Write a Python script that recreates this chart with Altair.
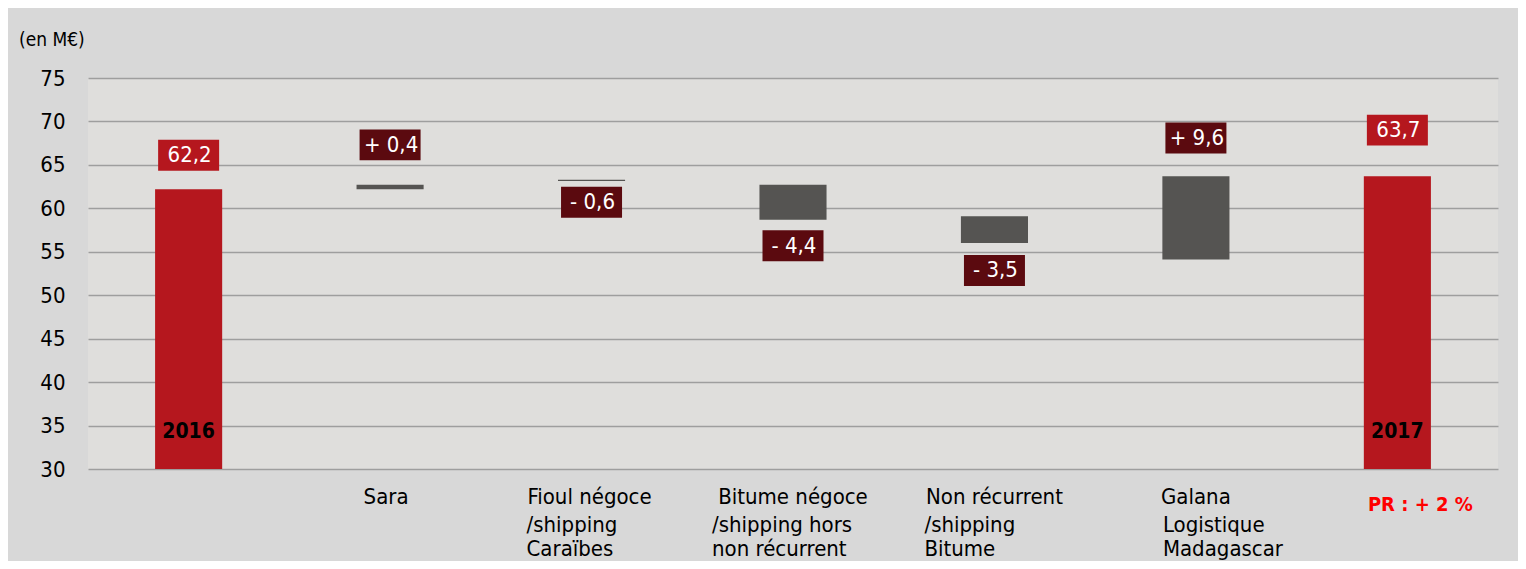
import altair as alt
import pandas as pd

# ---- data ----
categories = ["2016", "Sara", "Fioul", "Bitume", "NonRec", "Galana", "2017"]
bar_start = [0, 62.2, 63.3, 62.7, 59.1, 54.1, 0]
bar_end = [62.2, 62.7, 63.15, 58.7, 56.0, 63.7, 63.7]
bar_kind = ["total", "step", "step", "step", "step", "step", "total"]
value_labels = ["62,2", "+ 0,4", "- 0,6", "- 4,4", "- 3,5", "+ 9,6", "63,7"]
label_center = [66.1, 67.3, 60.7, 55.7, 52.85, 68.1, 69.0]
year_labels = ["2016", "", "", "", "", "", "2017"]
year_label_value = 34.3
line1 = ["", "Sara", "Fioul négoce", "Bitume négoce", "Non récurrent", "Galana", ""]
line2 = ["", "", "/shipping", "/shipping hors", "/shipping", "Logistique", ""]
line3 = ["", "", "Caraïbes", "non récurrent", "Bitume", "Madagascar", ""]
pr_label = "PR : + 2 %"
y_ticks = [30, 35, 40, 45, 50, 55, 60, 65, 70, 75]

# ---- style ----
FONT = "DejaVu Sans Condensed, DejaVu Sans, sans-serif"
RED = "#b5171e"
DARK = "#5b0a0f"
STEP = "#555452"
box_half = 1.78          # half label box height in axis units (~31 px)
sub_dx = [0, 0, -65, -81, -70, -33, 0]
line1_dx = [0, -4, -2, 0, 0, 0, 0]

df = pd.DataFrame({
    "cat": categories,
    "start": bar_start,
    "end": bar_end,
    "kind": bar_kind,
    "lab": value_labels,
    "lc": label_center,
    "year": year_labels,
    "l1": line1,
    "l2": line2,
    "l3": line3,
})
df["lo"] = df["lc"] - box_half
df["hi"] = df["lc"] + box_half
df["yy"] = year_label_value

W, H = 1410, 391
xs = alt.X("cat:N", sort=categories,
           scale=alt.Scale(paddingInner=0.667, paddingOuter=0.333),
           axis=alt.Axis(labels=False, ticks=False, domain=False, title=None, grid=False))
yscale = alt.Scale(domain=[30, 75], nice=False, zero=False)

base = alt.Chart(df)

bars = base.mark_bar(clip=True).encode(
    x=xs,
    y=alt.Y("start:Q", scale=yscale,
            axis=alt.Axis(values=y_ticks, title=None, ticks=False, domain=False,
                          labelFontSize=22, labelFont=FONT, labelColor="#000000",
                          labelPadding=23, grid=True, gridColor="#9e9e9e",
                          gridWidth=1.5)),
    y2="end:Q",
    color=alt.Color("kind:N", scale=alt.Scale(domain=["total", "step"], range=[RED, STEP]), legend=None),
)

boxes = base.mark_bar(width=61).encode(
    x=xs,
    y=alt.Y("lo:Q", scale=yscale),
    y2="hi:Q",
    color=alt.Color("kind:N", scale=alt.Scale(domain=["total", "step"], range=[RED, DARK]), legend=None),
)

box_text = base.mark_text(color="white", fontSize=22, font=FONT, baseline="middle", dx=1).encode(
    x=xs, y=alt.Y("lc:Q", scale=yscale), text="lab:N")

year_text = base.mark_text(color="black", fontSize=21, font=FONT, fontWeight="bold",
                           baseline="middle").encode(
    x=xs, y=alt.Y("yy:Q", scale=yscale), text="year:N")

layers = [bars, boxes, box_text, year_text]

for i, c in enumerate(categories):
    one = alt.Chart(df.iloc[[i]])
    if line1[i]:
        layers.append(one.mark_text(fontSize=22, font=FONT, color="black", align="center",
                                    baseline="alphabetic", dx=line1_dx[i]).encode(
            x=xs, y=alt.value(426), text="l1:N"))
    if line2[i]:
        layers.append(one.mark_text(fontSize=22, font=FONT, color="black", align="left",
                                    baseline="alphabetic", dx=sub_dx[i]).encode(
            x=xs, y=alt.value(454), text="l2:N"))
        layers.append(one.mark_text(fontSize=22, font=FONT, color="black", align="left",
                                    baseline="alphabetic", dx=sub_dx[i]).encode(
            x=xs, y=alt.value(478), text="l3:N"))

pr = alt.Chart(df.iloc[[6]]).transform_calculate(pr=f"'{pr_label}'").mark_text(
    fontSize=20, font=FONT, fontWeight="bold", color="#ff0000", align="center",
    baseline="alphabetic", dx=23).encode(x=xs, y=alt.value(433), text="pr:N")
layers.append(pr)

unit = alt.Chart(df.iloc[[0]]).transform_calculate(t="'(en M€)'").mark_text(
    fontSize=19, font=FONT, color="black", align="left", baseline="middle").encode(
    x=alt.value(-69), y=alt.value(-38), text="t:N")
layers.append(unit)

chart = alt.layer(*layers).resolve_scale(color="independent").properties(
    width=W, height=H,
    background="#d8d8d8",
    padding={"left": 80, "top": 70, "right": 20, "bottom": 92},
    autosize=alt.AutoSizeParams(type="none"),
).configure_view(fill="#dfdedc", stroke=None)

chart.save("out.html", embed_options={"renderer": "svg", "actions": False})
